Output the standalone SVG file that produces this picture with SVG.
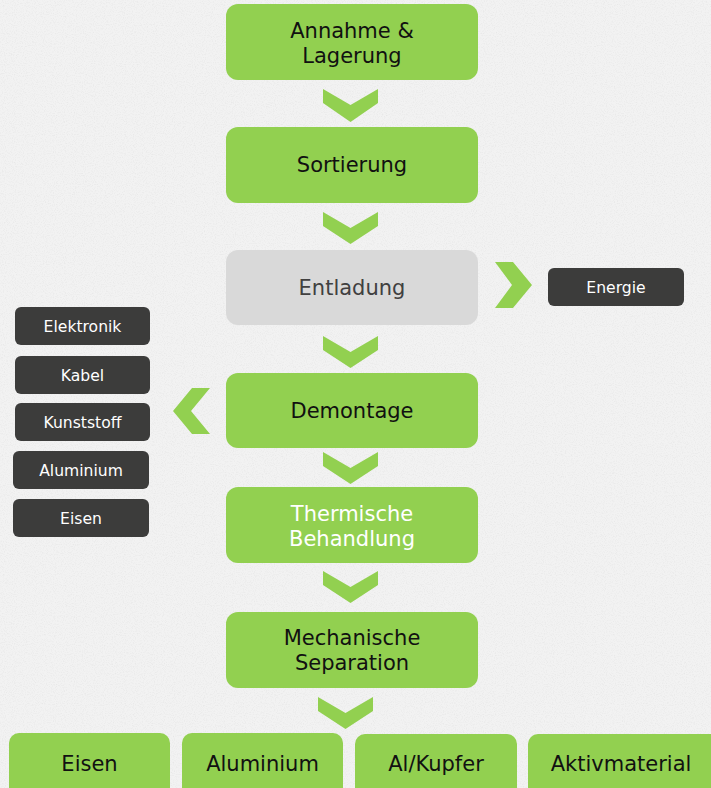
<svg xmlns="http://www.w3.org/2000/svg" width="711" height="788" viewBox="0 0 711 788">
<defs>
<style>
.g{fill:#92d050}
.grey{fill:#d9d9d9}
.d{fill:#3c3c3b}
.t{font-family:"DejaVu Sans","Verdana",sans-serif;font-size:21px;text-anchor:middle;fill:#111}
.tw{fill:#ffffff}
.tg{fill:#404040}
.s{font-family:"DejaVu Sans","Verdana",sans-serif;font-size:15.6px;text-anchor:middle;fill:#ffffff}
.ch{fill:#92d050}
</style>
<filter id="noise" x="0" y="0" width="100%" height="100%">
<feTurbulence type="fractalNoise" baseFrequency="0.9" numOctaves="2" seed="3" result="n"/>
<feColorMatrix type="matrix" values="0 0 0 0 0.55  0 0 0 0 0.55  0 0 0 0 0.55  0 0 0 -2.2 1.2"/>
</filter>
</defs>
<rect x="0" y="0" width="711" height="788" fill="#f2f2f2"/>
<rect x="0" y="0" width="711" height="788" filter="url(#noise)" opacity="0.22"/>

<g id="connectors">
<polygon class="ch" points="323,89 350.5,105 378,89 378,103 350.5,122 323,103"/>
<polygon class="ch" points="323,212 350.5,228 378,212 378,226 350.5,244 323,226"/>
<polygon class="ch" points="323,336 350.5,352 378,336 378,350 350.5,368 323,350"/>
<polygon class="ch" points="323,452 350.5,468 378,452 378,466 350.5,484 323,466"/>
<polygon class="ch" points="323,571 350.5,587 378,571 378,585 350.5,603 323,585"/>
<polygon class="ch" points="318,697 345.5,713 373,697 373,711 345.5,729 318,711"/>
<polygon class="ch" points="495,262 513,262 532,285 513,308 495,308 512,285"/>
<polygon class="ch" points="210,388 192,388 173,411 192,434 210,434 191,411"/>
</g>

<g id="n1"><rect class="g" x="226" y="4" width="252" height="76" rx="12"/>
<text class="t" x="352" y="38">Annahme &amp;</text><text class="t" x="352" y="63">Lagerung</text></g>
<g id="n2"><rect class="g" x="226" y="127" width="252" height="76" rx="12"/>
<text class="t" x="352" y="172">Sortierung</text></g>
<g id="n3"><rect class="grey" x="226" y="250" width="252" height="75" rx="12"/>
<text class="t tg" x="352" y="295">Entladung</text></g>
<g id="n4"><rect class="g" x="226" y="373" width="252" height="75" rx="12"/>
<text class="t" x="352" y="418">Demontage</text></g>
<g id="n5"><rect class="g" x="226" y="487" width="252" height="76" rx="12"/>
<text class="t tw" x="352" y="521">Thermische</text><text class="t tw" x="352" y="546">Behandlung</text></g>
<g id="n6"><rect class="g" x="226" y="612" width="252" height="76" rx="12"/>
<text class="t" x="352" y="645">Mechanische</text><text class="t" x="352" y="670">Separation</text></g>

<g id="energie"><rect class="d" x="548" y="268" width="136" height="38" rx="6"/>
<text class="s" x="616" y="292.5">Energie</text></g>

<g id="elektronik"><rect class="d" x="15" y="307" width="135" height="38" rx="6"/>
<text class="s" x="82.5" y="331.5">Elektronik</text></g>
<g id="kabel"><rect class="d" x="15" y="356" width="135" height="38" rx="6"/>
<text class="s" x="82.5" y="380.5">Kabel</text></g>
<g id="kunststoff"><rect class="d" x="15" y="403" width="135" height="38" rx="6"/>
<text class="s" x="82.5" y="427.5">Kunststoff</text></g>
<g id="aluminium-l"><rect class="d" x="13" y="451" width="136" height="38" rx="6"/>
<text class="s" x="81" y="475.5">Aluminium</text></g>
<g id="eisen-l"><rect class="d" x="13" y="499" width="136" height="38" rx="6"/>
<text class="s" x="81" y="523.5">Eisen</text></g>

<g id="eisen"><rect class="g" x="9" y="733" width="161" height="70" rx="10"/>
<text class="t" x="89.5" y="771">Eisen</text></g>
<g id="aluminium"><rect class="g" x="182" y="733" width="161" height="70" rx="10"/>
<text class="t" x="262.5" y="771">Aluminium</text></g>
<g id="alkupfer"><rect class="g" x="355" y="734" width="162" height="70" rx="10"/>
<text class="t" x="436" y="771">Al/Kupfer</text></g>
<g id="aktivmaterial"><rect class="g" x="528" y="734" width="195" height="70" rx="10"/>
<text class="t" x="621" y="771">Aktivmaterial</text></g>
</svg>
